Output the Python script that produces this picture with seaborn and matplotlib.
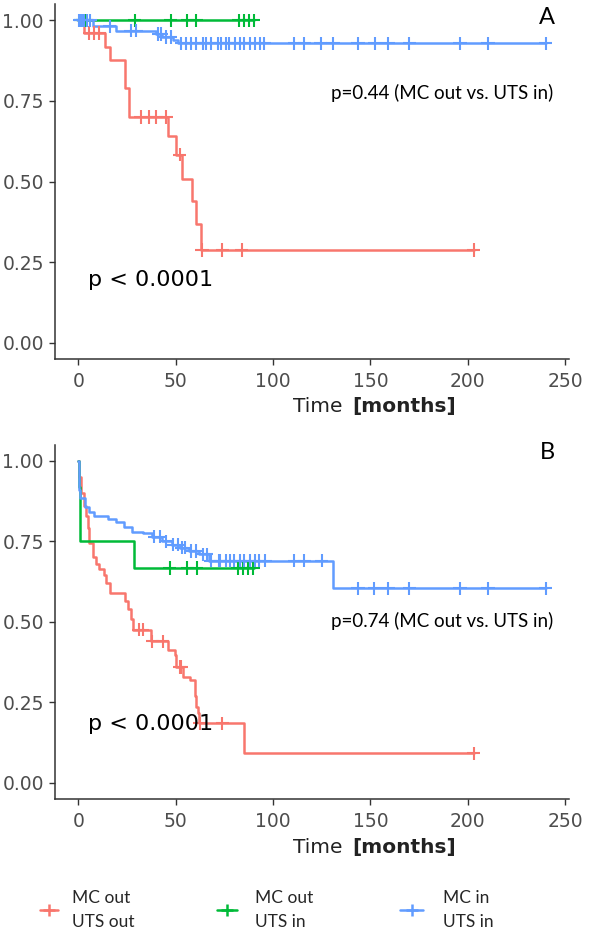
import numpy as np
import pandas as pd
import matplotlib
matplotlib.use("Agg")
import matplotlib.pyplot as plt
import seaborn as sns
from matplotlib.lines import Line2D

# ---------------- data ----------------
groups = ["MC out\nUTS out", "MC out\nUTS in", "MC in\nUTS in"]
colors = ["#F8766D", "#00BA38", "#619CFF"]

# Panel A: step times / survival values / censor times
a_red_t = [0, 3, 13.9, 16, 23.7, 26.2, 45.9, 50, 53, 58.6, 60.5, 63, 203]
a_red_s = [1.0, 0.96, 0.917, 0.878, 0.79, 0.70, 0.64, 0.583, 0.509, 0.44, 0.368, 0.288, 0.288]
a_red_c = [5.7, 8.2, 10.8, 32.2, 36.5, 40, 45, 52, 63.5, 74, 84, 203]

a_green_t = [0, 90]
a_green_s = [1.0, 1.0]
a_green_c = [1, 2, 4, 29, 47.5, 56, 60.5, 82.5, 85, 87.5, 90]

a_blue_t = [0, 7.4, 19.4, 40, 43, 48.5, 51, 240]
a_blue_s = [1.0, 0.981, 0.967, 0.957, 0.948, 0.938, 0.928, 0.928]
a_blue_c = [0.5, 1, 2, 3, 4.5, 6, 16, 27, 29.6, 41, 42.5, 45, 47.5, 52.8, 55.4,
            57.9, 60.5, 63.9, 65.6, 68.2, 71.6, 73.3, 75.9, 77.6, 80.2, 82.8,
            85.3, 87.9, 90.5, 93.1, 95.6, 111, 116, 124.5, 130.8, 143.6, 152.2,
            159, 170, 196, 210.4, 240]

# Panel B
b_red_t = [0, 0.5, 1.2, 3.1, 4, 4.8, 5.7, 7.4, 9.1, 10.8, 13.4, 14.3, 16, 23.7,
           25.3, 27.1, 27.9, 37.4, 45.9, 49.4, 50.3, 53.7, 57.1, 59.7, 60.5,
           61.4, 62.2, 85.3, 203]
b_red_s = [1.0, 0.95, 0.90, 0.86, 0.83, 0.79, 0.745, 0.70, 0.68, 0.665, 0.645,
           0.62, 0.59, 0.565, 0.54, 0.51, 0.475, 0.44, 0.413, 0.397, 0.36, 0.33,
           0.32, 0.27, 0.236, 0.216, 0.185, 0.092, 0.092]
b_red_c = [31, 33, 38, 43.4, 52, 52.8, 62.5, 74, 203]

b_green_t = [0, 0.3, 0.6, 1.0, 28.8, 90]
b_green_s = [1.0, 0.917, 0.833, 0.75, 0.667, 0.667]
b_green_c = [47, 56, 60.7, 82, 84.5, 87, 89.7]

b_blue_t = [0, 0.2, 0.4, 0.6, 3.5, 5.7, 8.2, 15, 19.4, 23.6, 27.8, 33, 38, 43,
            48, 52, 57, 62, 67, 130.8, 240]
b_blue_s = [1.0, 0.95, 0.91, 0.885, 0.857, 0.842, 0.828, 0.82, 0.81, 0.793,
            0.78, 0.775, 0.764, 0.75, 0.74, 0.73, 0.72, 0.71, 0.69, 0.604, 0.604]
b_blue_c = [39, 42, 45, 48.5, 51, 53, 55, 58, 60.5, 64, 66, 68, 72, 73, 76, 78,
            80, 83, 85, 88, 90.5, 93, 96, 111, 116, 125, 143.6, 152, 159, 170,
            196, 210.4, 240]

x_ticks = [0, 50, 100, 150, 200, 250]
y_ticks = [0.0, 0.25, 0.50, 0.75, 1.00]
y_tick_labels = ["0.00", "0.25", "0.50", "0.75", "1.00"]

panel_letters = ["A", "B"]
pair_p = ["p=0.44 (MC out vs. UTS in)", "p=0.74 (MC out vs. UTS in)"]
overall_p = "p < 0.0001"


def build_frames(curves):
    line_rows, cens_rows = [], []
    for g, (t, s, c) in zip(groups, curves):
        t_arr = np.asarray(t, float)
        s_arr = np.asarray(s, float)
        for ti, si in zip(t_arr, s_arr):
            line_rows.append((ti, si, g))
        idx = np.searchsorted(t_arr, np.asarray(c, float), side="right") - 1
        for ci, si in zip(c, s_arr[idx]):
            cens_rows.append((ci, si, g))
    lines = pd.DataFrame(line_rows, columns=["time", "surv", "group"])
    cens = pd.DataFrame(cens_rows, columns=["time", "surv", "group"])
    return lines, cens


panels = [
    build_frames([(a_red_t, a_red_s, a_red_c), (a_green_t, a_green_s, a_green_c),
                  (a_blue_t, a_blue_s, a_blue_c)]),
    build_frames([(b_red_t, b_red_s, b_red_c), (b_green_t, b_green_s, b_green_c),
                  (b_blue_t, b_blue_s, b_blue_c)]),
]

# ---------------- figure ----------------
sns.set_style("ticks")
plt.rcParams["font.family"] = ["DejaVu Sans"]

W, H = 596, 931
fig = plt.figure(figsize=(W / 100, H / 100), dpi=100)


def fx(px):
    return px / W


def fy(py):
    return 1 - py / H


ax_boxes = [(55, 4, 569, 359), (55, 444.6, 569, 799.1)]
palette = dict(zip(groups, colors))

for i, ((lines, cens), (l, t, r, b)) in enumerate(zip(panels, ax_boxes)):
    ax = fig.add_axes([fx(l), fy(b), fx(r - l), (b - t) / H])
    sns.lineplot(data=lines, x="time", y="surv", hue="group", hue_order=groups,
                 palette=palette, estimator=None, drawstyle="steps-post",
                 linewidth=1.8, legend=False, ax=ax)
    sns.scatterplot(data=cens, x="time", y="surv", hue="group", hue_order=groups,
                    palette=palette, marker="+", s=90, linewidth=1.5,
                    legend=False, ax=ax, zorder=3)
    ax.set_xlim(-12, 252)
    ax.set_ylim(-0.05, 1.05)
    ax.set_xticks(x_ticks)
    ax.set_xticklabels([str(v) for v in x_ticks])
    ax.set_yticks(y_ticks)
    ax.set_yticklabels(y_tick_labels)
    ax.set_xlabel("")
    ax.set_ylabel("")
    sns.despine(ax=ax)
    for sp in ["left", "bottom"]:
        ax.spines[sp].set_color("#333333")
        ax.spines[sp].set_linewidth(1.1)
    ax.tick_params(axis="both", colors="#333333", length=4, width=1.0,
                   labelsize=13.5, labelcolor="#4D4D4D")
    ax.tick_params(axis="x", pad=5)
    ax.tick_params(axis="y", pad=4)

    off = 0 if i == 0 else 440.6
    # xlabel
    fig.text(fx(293), fy(407 + off), "Time", fontsize=14.5, color="#222222",
             ha="left", va="center")
    fig.text(fx(352), fy(407 + off), "[months]", fontsize=14.5, color="#222222",
             fontweight="bold", ha="left", va="center")
    # panel letter
    fig.text(fx(547), fy(18 + off - (6 if i else 0)), panel_letters[i],
             family="Lato", fontsize=17, color="black", ha="center", va="center")
    # pairwise p
    fig.text(fx(553), fy(93 + off + (87 if i else 0)), pair_p[i], family="Lato",
             fontsize=13.5, color="black", ha="right", va="center")
    # overall p
    fig.text(fx(88), fy(280 + off + (3 if i else 0)), overall_p, fontsize=16,
             color="black", ha="left", va="center")

# legend: one entry per column, placed like the reference
leg_fs = 12.5
leg_px = leg_fs * 100 / 72
leg_cols = [(40, 18, 72), (217, 20, 255), (400, 23, 443)]  # handle start, handle len, text start
for g, c, (hx, hl, tx) in zip(groups, colors, leg_cols):
    h = Line2D([], [], color=c, marker="+", markersize=9, markeredgewidth=1.8,
               linewidth=1.8)
    leg = fig.legend([h], [g], loc="center left", bbox_to_anchor=(fx(hx), fy(910)),
                     frameon=False, prop={"family": "Lato", "size": leg_fs},
                     handlelength=hl / leg_px,
                     handletextpad=(tx - hx - hl) / leg_px,
                     borderpad=0, borderaxespad=0)
    for txt in leg.get_texts():
        txt.set_linespacing(1.65)

fig.savefig("out.png", dpi=100)
